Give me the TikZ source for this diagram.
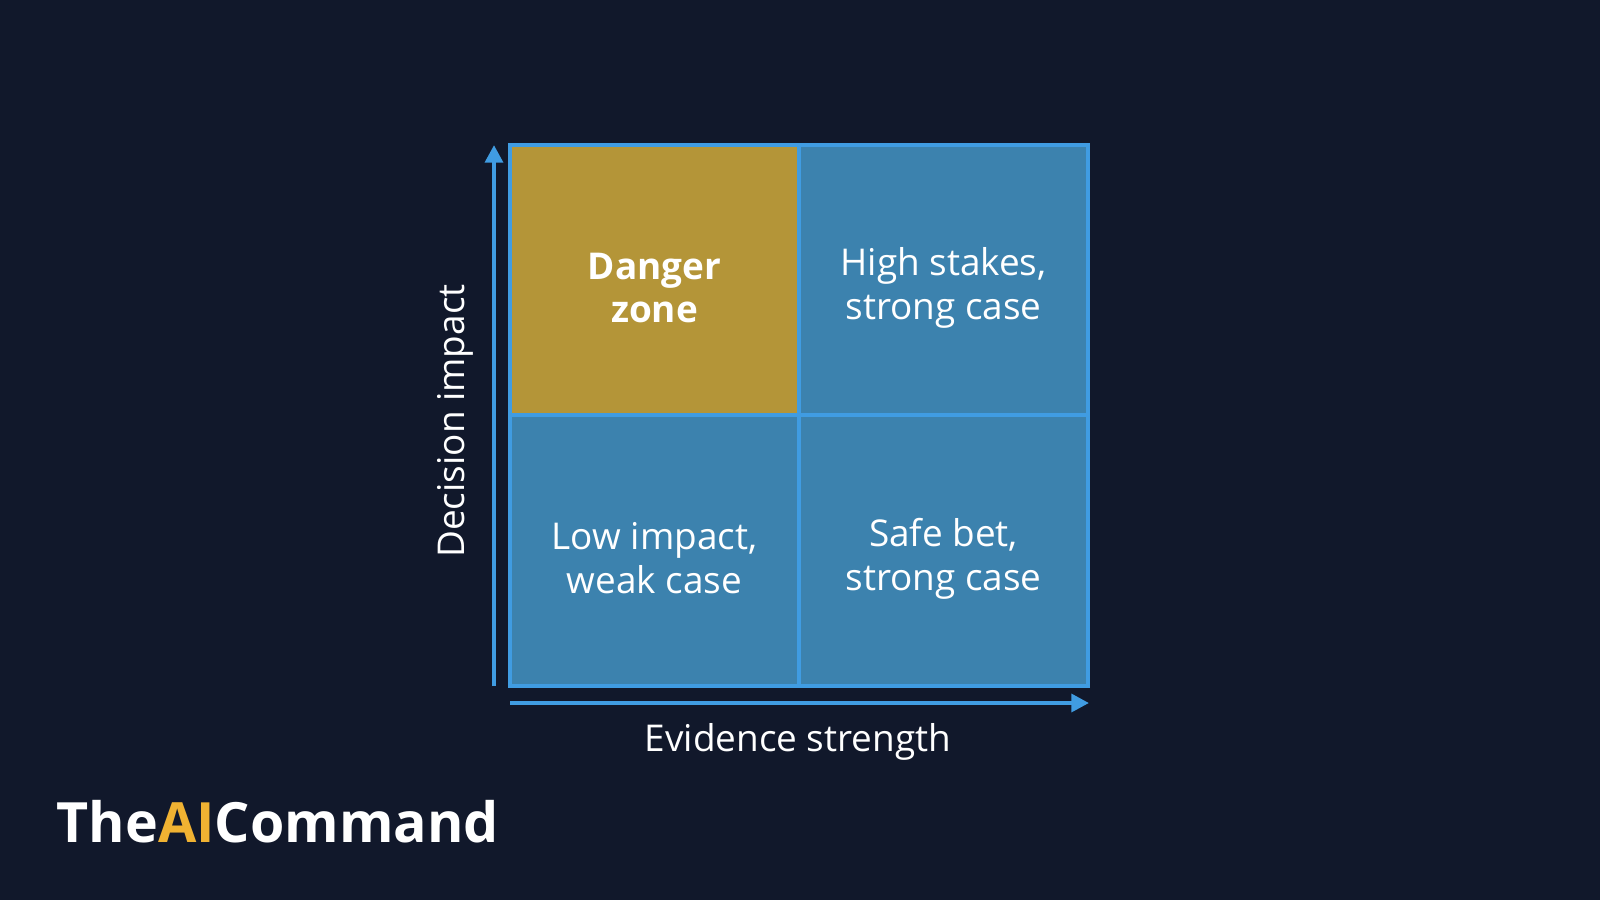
\documentclass[tikz,border=0pt]{standalone}
\usepackage{fontspec}
\setmainfont{Open Sans}
\usetikzlibrary{arrows.meta}
\definecolor{bgnavy}{RGB}{17,24,43}
\definecolor{cellblue}{RGB}{60,130,174}
\definecolor{edgeblue}{RGB}{64,156,226}
\definecolor{cellgold}{RGB}{180,149,56}
\definecolor{logogold}{RGB}{240,178,50}
\tikzset{
    cell/.style={draw=edgeblue, line width=1.2pt, fill=cellblue, minimum width=2.89cm, minimum height=2.705cm, text=white, align=center, font=\fontsize{10.5}{12.5}\selectfont, inner sep=0pt},
    celltext/.style={text=white, align=center, font=\fontsize{10.5}{12.5}\selectfont},
    axis/.style={edgeblue, line width=1.2pt, -{Triangle[length=5pt,width=5pt]}}
}
\begin{document}
\begin{tikzpicture}
    \fill[bgnavy] (0,0) rectangle (16,9);
    \useasboundingbox (0,0) rectangle (16,9);

    % Four quadrants
    \node[cell, fill=cellgold] (danger) at (6.545,6.2) {};
    \node[cell] (highstakes) at (9.435,6.2) {};
    \node[cell] (lowimpact) at (6.545,3.495) {};
    \node[cell] (safebet) at (9.435,3.495) {};
    \node[celltext, font=\bfseries\fontsize{10.5}{12.5}\selectfont] at ([yshift=-0.08cm]danger) {Danger\\zone};
    \node[celltext] at ([yshift=-0.08cm]highstakes) {High stakes,\\strong case};
    \node[celltext] at ([yshift=-0.08cm]lowimpact) {Low impact,\\weak case};
    \node[celltext] at ([yshift=-0.08cm]safebet) {Safe bet,\\strong case};

    % Axes
    \coordinate (yfrom) at (4.94,2.14);
    \coordinate (yto) at (4.94,7.55);
    \coordinate (xfrom) at (5.10,1.97);
    \coordinate (xto) at (10.89,1.97);
    \draw[axis] (yfrom) -- (yto);
    \draw[axis] (xfrom) -- (xto);
    \node[rotate=90, text=white, font=\fontsize{10.5}{12}\selectfont] (ylabel) at (4.55,4.79) {Decision impact};
    \node[text=white, font=\fontsize{10.5}{12}\selectfont] (xlabel) at (7.98,1.58) {Evidence strength};

    % Logo
    \node[anchor=west, inner sep=0pt, font=\bfseries\fontsize{15.8}{19}\selectfont, text=white] (logo) at (0.56,0.78) {The{\color{logogold}AI}Command};
\end{tikzpicture}
\end{document}
